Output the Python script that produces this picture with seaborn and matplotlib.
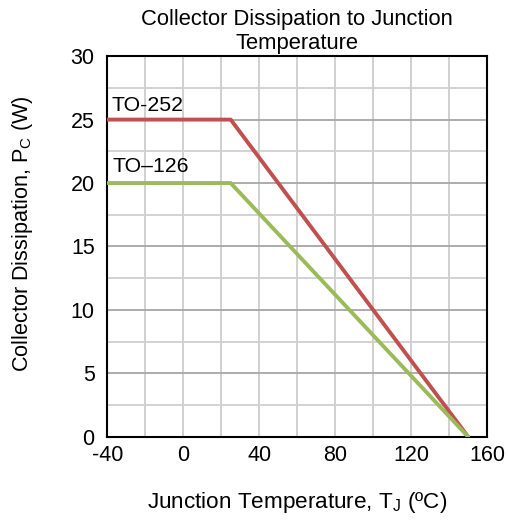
import numpy as np
import pandas as pd
import seaborn as sns
from matplotlib import pyplot as plt

# Derating curve data
temp_to252 = [-40, 25, 150]
pc_to252 = [25, 25, 0]
temp_to126 = [-40, 25, 150]
pc_to126 = [20, 20, 0]

df = pd.concat([
    pd.DataFrame({"Tj": temp_to252, "Pc": pc_to252, "Package": "TO-252"}),
    pd.DataFrame({"Tj": temp_to126, "Pc": pc_to126, "Package": "TO-126"}),
])

sns.set_theme(style="white")
plt.rcParams["font.family"] = ["Liberation Sans", "DejaVu Sans"]
plt.rcParams["mathtext.fontset"] = "custom"
plt.rcParams["mathtext.rm"] = "Liberation Sans"
plt.rcParams["axes.unicode_minus"] = False
plt.rcParams["text.color"] = "black"
plt.rcParams["axes.labelcolor"] = "black"
plt.rcParams["xtick.color"] = "black"
plt.rcParams["ytick.color"] = "black"

fig = plt.figure(figsize=(5.08, 5.2), dpi=100)
ax = fig.add_axes([0.211, 0.160, 0.748, 0.732])

# grid: every 20 degC, every 2.5 W (multiples of 5 darker)
for x in np.arange(-20, 160, 20):
    ax.axvline(x, color="#c8c8c8", lw=1.2, zorder=0)
for y in np.arange(2.5, 30, 2.5):
    c = "#a6a6a6" if y % 5 == 0 else "#cfcfcf"
    ax.axhline(y, color=c, lw=1.3, zorder=0)

sns.lineplot(data=df, x="Tj", y="Pc", hue="Package",
             palette={"TO-252": "#c0504d", "TO-126": "#9bbb59"},
             lw=2.8, legend=False, sort=False, ax=ax, zorder=3)

ax.text(-37.6, 25.7, "TO-252", fontsize=15.3, va="baseline", ha="left")
ax.text(-37.0, 20.9, "TO–126", fontsize=15.3, va="baseline", ha="left")

ax.set_xlim(-40, 160)
ax.set_ylim(0, 30)
ax.set_xticks([-40, 0, 40, 80, 120, 160])
ax.set_yticks([0, 5, 10, 15, 20, 25, 30])
ax.tick_params(labelsize=15.5, length=0)
ax.tick_params(axis="x", pad=6)
ax.tick_params(axis="y", pad=9)
for s in ax.spines.values():
    s.set_color("black")
    s.set_linewidth(1.5)

ax.set_title("Collector Dissipation to Junction\nTemperature",
             fontsize=15.8, linespacing=1.2, pad=5)
ax.set_xlabel(r"Junction Temperature, T$_\mathregular{J}$ (ºC)",
              fontsize=16.2, labelpad=17)
ax.set_ylabel(r"Collector Dissipation, P$_\mathregular{C}$ (W)",
              fontsize=15.6)
ax.yaxis.set_label_coords(-0.19, 0.535)

fig.savefig("out.png", dpi=100)
